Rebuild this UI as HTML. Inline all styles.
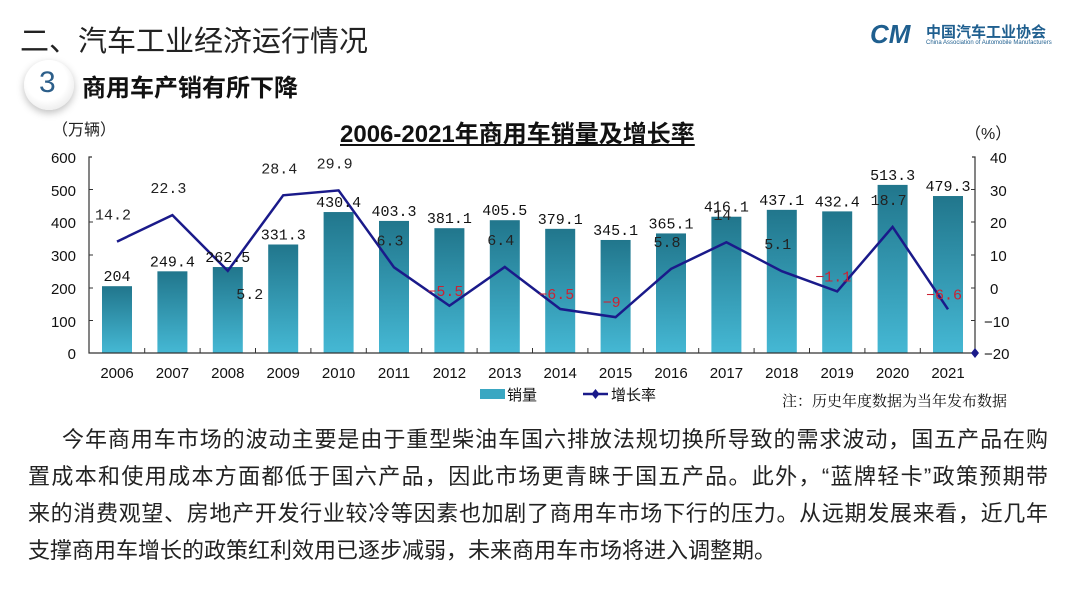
<!DOCTYPE html>
<html><head><meta charset="utf-8"><style>
body{margin:0;width:1080px;height:604px;background:#fff;overflow:hidden;font-family:"Liberation Sans","Noto Sans CJK SC",sans-serif;position:relative}
.t{position:absolute;white-space:nowrap}
.p{position:absolute;left:28px;width:1020px;font-size:22px;color:#222;text-align-last:justify;text-align:justify;font-family:"Liberation Sans","Noto Sans CJK SC",sans-serif}
</style></head><body>
<div class="t" style="left:20px;top:18px;font-size:29px;color:#222">二、汽车工业经济运行情况</div>
<div style="position:absolute;left:24px;top:60px;width:50px;height:50px;border-radius:50%;background:radial-gradient(circle at 45% 40%,#fff 50%,#ddd 100%);box-shadow:0 3px 8px rgba(0,0,0,.25)"></div>
<div class="t" style="left:39px;top:66px;font-size:30px;color:#2d5f8a">3</div>
<div class="t" style="left:82px;top:68px;font-size:24px;font-weight:bold;color:#111">商用车产销有所下降</div>
<div class="t" style="left:870px;top:19px;font-size:26px;font-weight:bold;color:#1f5f8f;font-style:italic">CM</div>
<div class="t" style="left:926px;top:21px;font-size:15px;font-weight:bold;color:#1f5f8f">中国汽车工业协会</div>
<div class="t" style="left:926px;top:40px;font-size:6px;color:#1f5f8f">China Association of Automobile Manufacturers</div>
<div class="t" style="left:340px;top:114px;font-size:24px;font-weight:bold;text-decoration:underline;color:#111">2006-2021年商用车销量及增长率</div>
<svg width="1080" height="604" style="position:absolute;left:0;top:0" font-family="Liberation Sans,Noto Sans CJK SC,sans-serif">
<defs><linearGradient id="g" x1="0" y1="0" x2="0" y2="1"><stop offset="0" stop-color="#21768c"/><stop offset="1" stop-color="#45b8d4"/></linearGradient></defs>
<text x="52" y="135" font-size="16" fill="#222">（万辆）</text>
<text x="965" y="139" font-size="16" fill="#222">（%）</text>
<g id="bars"></g>
<g font-size="15" fill="#111" text-anchor="end">
<text x="76" y="163">600</text><text x="76" y="196">500</text><text x="76" y="228">400</text><text x="76" y="261">300</text><text x="76" y="294">200</text><text x="76" y="327">100</text><text x="76" y="359">0</text>
</g>
<g font-size="15" fill="#111" text-anchor="start">
<text x="990" y="163">40</text><text x="990" y="196">30</text><text x="990" y="228">20</text><text x="990" y="261">10</text><text x="990" y="294">0</text><text x="984" y="327">−10</text><text x="984" y="359">−20</text>
</g>
<path d="M92 157H89V353H975V157H972" fill="none" stroke="#333" stroke-width="1.2"/>
<g stroke="#333"><path d="M89 189.5h4M89 222h4M89 255h4M89 288h4M89 320.5h4M975 189.5h-4M975 222h-4M975 255h-4M975 288h-4M975 320.5h-4"/></g>
<g id="rest"></g>
<rect x="480" y="389" width="25" height="10" fill="#3aa7c2"/>
<text x="507" y="400" font-size="15" fill="#111">销量</text>
<line x1="583" y1="394" x2="608" y2="394" stroke="#1a1a8a" stroke-width="2.5"/>
<path d="M595.5 389l4 5-4 5-4-5z" fill="#1a1a8a"/>
<text x="611" y="400" font-size="15" fill="#111">增长率</text>
<text x="782" y="406" font-size="15" fill="#111" font-family="Liberation Serif,Noto Serif CJK SC,serif">注：历史年度数据为当年发布数据</text>
</svg>
<div class="p" style="top:422px;left:62px;width:986px">今年商用车市场的波动主要是由于重型柴油车国六排放法规切换所导致的需求波动，国五产品在购</div>
<div class="p" style="top:459px">置成本和使用成本方面都低于国六产品，因此市场更青睐于国五产品。此外，“蓝牌轻卡”政策预期带</div>
<div class="p" style="top:496px">来的消费观望、房地产开发行业较冷等因素也加剧了商用车市场下行的压力。从远期发展来看，近几年</div>
<div class="p" style="top:533px;width:760px;text-align-last:left">支撑商用车增长的政策红利效用已逐步减弱，未来商用车市场将进入调整期。</div>
<script>
var v=[204,249.4,262.5,331.3,430.4,403.3,381.1,405.5,379.1,345.1,365.1,416.1,437.1,432.4,513.3,479.3];
var r=[14.2,22.3,5.2,28.4,29.9,6.3,-5.5,6.4,-6.5,-9,5.8,14,5.1,-1.1,18.7,-6.6];
var b=document.getElementById('bars'),o=document.getElementById('rest'),s='',t='',pts=[];
for(var i=0;i<16;i++){var cx=117+i*55.4,h=v[i]*0.3275,y=353-h;
s+='<rect x="'+(cx-15)+'" y="'+y+'" width="30" height="'+h+'" fill="url(#g)"/>';
t+='<text x="'+cx+'" y="'+(y-5)+'" font-size="15" text-anchor="middle" fill="#111" font-family="Liberation Mono,monospace">'+v[i]+'</text>';
t+='<text x="'+cx+'" y="378" font-size="15" text-anchor="middle" fill="#111">'+(2006+i)+'</text>';
if(i<15)t+='<line x1="'+(cx+27.7)+'" y1="353" x2="'+(cx+27.7)+'" y2="348" stroke="#333"/>';
var ry=353-(r[i]+20)*3.2583;pts.push(cx+','+ry);
var neg=r[i]<0;t+='<text x="'+(cx+(i==2?22:-4))+'" y="'+(i==2?ry+28:ry-22+(neg?12:0))+'" font-size="15" text-anchor="middle" fill="'+(neg?'#c23':'#222')+'" font-family="Liberation Mono,monospace">'+(neg?'−'+(-r[i]):r[i])+'</text>';}
b.innerHTML=s;
o.innerHTML='<polyline points="'+pts.join(' ')+'" fill="none" stroke="#1a1a8a" stroke-width="2.5"/>'+t+'<path d="M975 348l4 5-4 5-4-5z" fill="#1a1a8a"/>';
</script>
</body></html>
